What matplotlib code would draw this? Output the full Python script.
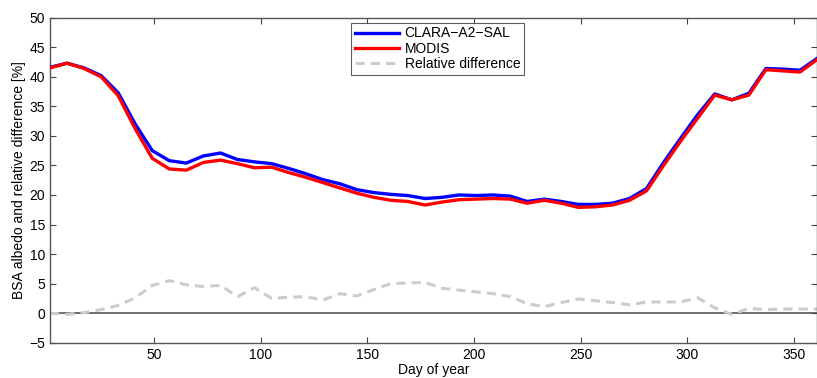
import matplotlib
matplotlib.use("Agg")
import matplotlib.pyplot as plt

# 8-day composites, day of year
days = [1, 9, 17, 25, 33, 41, 49, 57, 65, 73, 81, 89, 97, 105, 113, 121, 129, 137,
        145, 153, 161, 169, 177, 185, 193, 201, 209, 217, 225, 233, 241, 249, 257,
        265, 273, 281, 289, 297, 305, 313, 321, 329, 337, 345, 353, 361]

clara = [41.6, 42.3, 41.5, 40.2, 37.3, 32.0, 27.5, 25.8, 25.4, 26.6, 27.1, 26.0,
         25.6, 25.3, 24.5, 23.6, 22.6, 21.9, 20.9, 20.4, 20.1, 19.9, 19.4, 19.6,
         20.0, 19.9, 20.0, 19.8, 18.9, 19.3, 18.9, 18.4, 18.4, 18.6, 19.4, 21.1,
         25.5, 29.6, 33.6, 37.1, 36.1, 37.2, 41.4, 41.3, 41.1, 43.1]

modis = [41.5, 42.3, 41.4, 40.0, 36.8, 31.2, 26.2, 24.4, 24.2, 25.5, 25.9, 25.3,
         24.6, 24.7, 23.8, 23.0, 22.1, 21.2, 20.3, 19.6, 19.1, 18.9, 18.3, 18.8,
         19.2, 19.3, 19.4, 19.3, 18.6, 19.1, 18.6, 17.9, 18.0, 18.3, 19.1, 20.7,
         25.0, 29.1, 33.0, 36.9, 36.1, 36.9, 41.2, 41.0, 40.8, 42.9]

rel_diff = [0.0, -0.2, 0.1, 0.6, 1.3, 2.6, 4.7, 5.5, 4.8, 4.5, 4.7, 2.8, 4.3, 2.5,
            2.7, 2.8, 2.2, 3.3, 2.9, 4.0, 5.0, 5.1, 5.2, 4.2, 3.9, 3.6, 3.3, 2.8,
            1.6, 1.1, 1.8, 2.4, 2.1, 1.8, 1.4, 1.9, 1.9, 1.9, 2.6, 0.9, -0.2, 0.8,
            0.6, 0.7, 0.7, 0.7]

plt.rcParams['font.family'] = ['Liberation Sans', 'DejaVu Sans']

fig = plt.figure(figsize=(8.17, 3.78), dpi=100)
ax = fig.add_axes([0.0612, 0.0934, 0.9388, 0.8598])

ax.plot(days, clara, color='#0000ff', lw=2.4, label='CLARA\u2212A2\u2212SAL', zorder=3)
ax.plot(days, modis, color='#ff0000', lw=2.4, label='MODIS', zorder=4)
ax.plot(days, rel_diff, color='#cccccc', lw=2.2, ls=(0, (3, 2)),
        label='Relative difference', zorder=2)
ax.axhline(0, color='#555555', lw=1.2, zorder=1)

ax.set_xlim(1, 361)
ax.set_ylim(-5, 50)
ax.set_xticks(range(50, 351, 50))
ax.set_yticks(range(-5, 51, 5))
ax.tick_params(direction='in', length=4, width=0.8, color='#444444',
               top=True, right=True, labelsize=10)
for s in ax.spines.values():
    s.set_color('#555555')
    s.set_linewidth(1.0)

ax.set_xlabel('Day of year', fontsize=10, labelpad=1)
ax.set_ylabel('BSA albedo and relative difference [%]', fontsize=10, labelpad=2)

leg = ax.legend(loc='upper center', bbox_to_anchor=(0.505, 0.984), fontsize=10,
                frameon=True, fancybox=False, handlelength=3.2,
                borderpad=0.25, labelspacing=0.1, handletextpad=0.4,
                borderaxespad=0.0)
leg.get_frame().set_edgecolor('#333333')
leg.get_frame().set_linewidth(0.8)

fig.savefig('out.png', dpi=100)
